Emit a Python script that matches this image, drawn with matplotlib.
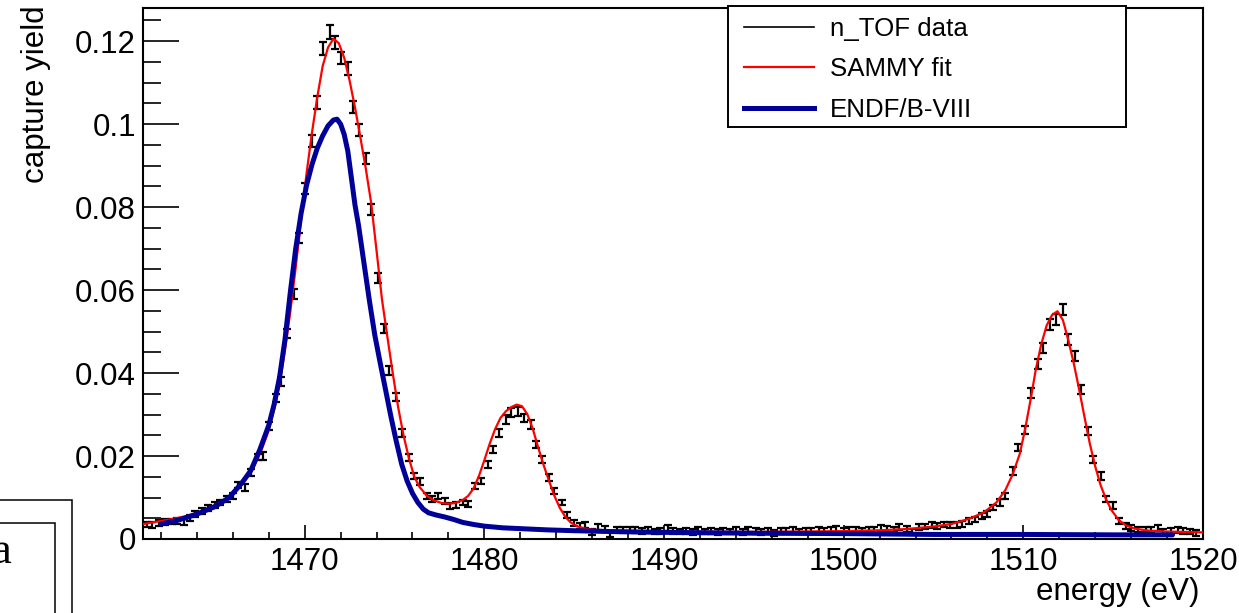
import matplotlib
matplotlib.use("Agg")
import matplotlib.pyplot as plt
from matplotlib.lines import Line2D
from matplotlib.patches import Rectangle
from matplotlib.ticker import MultipleLocator

plt.rcParams['font.family'] = ['Liberation Sans', 'DejaVu Sans']

# n_TOF capture data (energy in eV, yield, error)
energy = [
    1461.2, 1461.5, 1461.9, 1462.2, 1462.6, 1462.9, 1463.3, 1463.6, 1463.9, 1464.3,
    1464.6, 1465.0, 1465.3, 1465.7, 1466.0, 1466.3, 1466.7, 1467.0, 1467.4, 1467.7,
    1468.0, 1468.4, 1468.7, 1469.0, 1469.4, 1469.7, 1470.0, 1470.4, 1470.7, 1471.0,
    1471.4, 1471.7, 1472.0, 1472.4, 1472.7, 1473.0, 1473.4, 1473.7, 1474.1, 1474.4,
    1474.7, 1475.1, 1475.4, 1475.8, 1476.1, 1476.4, 1476.8, 1477.1, 1477.4, 1477.8,
    1478.1, 1478.4, 1478.8, 1479.1, 1479.5, 1479.8, 1480.2, 1480.5, 1480.8, 1481.2,
    1481.5, 1481.9, 1482.2, 1482.6, 1482.9, 1483.2, 1483.6, 1483.9, 1484.3, 1484.6,
    1485.0, 1485.3, 1485.6, 1486.0, 1486.3, 1486.7, 1487.0, 1487.4, 1487.7, 1488.1,
    1488.4, 1488.8, 1489.1, 1489.5, 1489.8, 1490.2, 1490.5, 1490.9, 1491.2, 1491.6,
    1491.9, 1492.3, 1492.6, 1493.0, 1493.3, 1493.7, 1494.0, 1494.4, 1494.7, 1495.1,
    1495.4, 1495.8, 1496.1, 1496.5, 1496.8, 1497.2, 1497.5, 1497.9, 1498.2, 1498.6,
    1498.9, 1499.3, 1499.6, 1500.0, 1500.3, 1500.7, 1501.0, 1501.4, 1501.7, 1502.1,
    1502.4, 1502.8, 1503.1, 1503.5, 1503.8, 1504.2, 1504.5, 1504.9, 1505.2, 1505.6,
    1505.9, 1506.3, 1506.6, 1507.0, 1507.3, 1507.7, 1508.0, 1508.3, 1508.7, 1509.0,
    1509.4, 1509.7, 1510.1, 1510.4, 1510.8, 1511.1, 1511.5, 1511.8, 1512.2, 1512.5,
    1512.9, 1513.2, 1513.6, 1513.9, 1514.3, 1514.6, 1515.0, 1515.3, 1515.7, 1516.0,
    1516.4, 1516.8, 1517.1, 1517.5, 1517.8, 1518.2, 1518.6, 1518.9, 1519.3, 1519.6,
]
yld = [
    0.0035, 0.0033, 0.0039, 0.0041, 0.0042, 0.0044, 0.0041, 0.0050, 0.0060, 0.0068,
    0.0074, 0.0081, 0.0088, 0.0096, 0.0104, 0.0130, 0.0124, 0.0160, 0.0198, 0.0200,
    0.0272, 0.0340, 0.0380, 0.0495, 0.0590, 0.0725, 0.0845, 0.0960, 0.1052, 0.1183,
    0.1222, 0.1197, 0.1160, 0.1134, 0.1041, 0.0986, 0.0918, 0.0795, 0.0630, 0.0507,
    0.0406, 0.0342, 0.0255, 0.0197, 0.0152, 0.0138, 0.0104, 0.0096, 0.0104, 0.0092,
    0.0080, 0.0082, 0.0088, 0.0085, 0.0128, 0.0140, 0.0180, 0.0216, 0.0256, 0.0288,
    0.0304, 0.0308, 0.0292, 0.0276, 0.0228, 0.0192, 0.0148, 0.0116, 0.0088, 0.0057,
    0.0039, 0.0031, 0.0033, 0.0016, 0.0029, 0.0025, 0.0013, 0.0023, 0.0022, 0.0023,
    0.0022, 0.0020, 0.0021, 0.0018, 0.0019, 0.0026, 0.0020, 0.0018, 0.0019, 0.0017,
    0.0021, 0.0018, 0.0019, 0.0016, 0.0020, 0.0018, 0.0021, 0.0017, 0.0022, 0.0020,
    0.0016, 0.0019, 0.0015, 0.0020, 0.0019, 0.0021, 0.0018, 0.0020, 0.0019, 0.0022,
    0.0020, 0.0021, 0.0025, 0.0019, 0.0022, 0.0021, 0.0020, 0.0023, 0.0022, 0.0026,
    0.0024, 0.0023, 0.0029, 0.0025, 0.0016, 0.0029, 0.0030, 0.0034, 0.0032, 0.0035,
    0.0034, 0.0033, 0.0036, 0.0043, 0.0047, 0.0055, 0.0060, 0.0076, 0.0088, 0.0104,
    0.0164, 0.0220, 0.0262, 0.0352, 0.0421, 0.0461, 0.0517, 0.0529, 0.0553, 0.0481,
    0.0441, 0.0361, 0.0260, 0.0192, 0.0152, 0.0096, 0.0080, 0.0043, 0.0031, 0.0027,
    0.0023, 0.0023, 0.0021, 0.0026, 0.0018, 0.0019, 0.0021, 0.0020, 0.0018, 0.0015,
]
yld_err = [
    0.0007, 0.0007, 0.0007, 0.0007, 0.0007, 0.0007, 0.0007, 0.0007, 0.0007, 0.0007,
    0.0007, 0.0007, 0.0007, 0.0007, 0.0007, 0.0008, 0.0008, 0.0008, 0.0008, 0.0009,
    0.0009, 0.0010, 0.0010, 0.0011, 0.0012, 0.0012, 0.0013, 0.0014, 0.0015, 0.0016,
    0.0016, 0.0016, 0.0015, 0.0015, 0.0014, 0.0014, 0.0013, 0.0013, 0.0012, 0.0011,
    0.0011, 0.0010, 0.0009, 0.0009, 0.0008, 0.0008, 0.0008, 0.0008, 0.0008, 0.0008,
    0.0007, 0.0007, 0.0007, 0.0007, 0.0008, 0.0008, 0.0009, 0.0009, 0.0010, 0.0010,
    0.0011, 0.0011, 0.0010, 0.0010, 0.0009, 0.0009, 0.0008, 0.0008, 0.0007, 0.0007,
    0.0007, 0.0007, 0.0007, 0.0007, 0.0007, 0.0007, 0.0007, 0.0007, 0.0007, 0.0007,
    0.0007, 0.0007, 0.0007, 0.0007, 0.0007, 0.0007, 0.0007, 0.0007, 0.0007, 0.0007,
    0.0007, 0.0007, 0.0007, 0.0007, 0.0007, 0.0007, 0.0007, 0.0007, 0.0007, 0.0007,
    0.0007, 0.0007, 0.0007, 0.0007, 0.0007, 0.0007, 0.0007, 0.0007, 0.0007, 0.0007,
    0.0007, 0.0007, 0.0007, 0.0007, 0.0007, 0.0007, 0.0007, 0.0007, 0.0007, 0.0007,
    0.0007, 0.0007, 0.0007, 0.0007, 0.0007, 0.0007, 0.0007, 0.0007, 0.0007, 0.0007,
    0.0007, 0.0007, 0.0007, 0.0007, 0.0007, 0.0007, 0.0007, 0.0007, 0.0008, 0.0008,
    0.0009, 0.0009, 0.0010, 0.0011, 0.0012, 0.0012, 0.0013, 0.0013, 0.0014, 0.0013,
    0.0012, 0.0011, 0.0010, 0.0009, 0.0009, 0.0008, 0.0008, 0.0007, 0.0007, 0.0007,
    0.0007, 0.0007, 0.0007, 0.0007, 0.0007, 0.0007, 0.0007, 0.0007, 0.0007, 0.0007,
]

# SAMMY fit curve
fit_e = [
    1461.0, 1461.8, 1462.6, 1463.4, 1464.2, 1464.8, 1465.4, 1465.9, 1466.4, 1466.8,
    1467.2, 1467.6, 1468.0, 1468.3, 1468.6, 1468.9, 1469.2, 1469.5, 1469.8, 1470.1,
    1470.4, 1470.7, 1471.0, 1471.3, 1471.6, 1471.9, 1472.2, 1472.5, 1472.8, 1473.1,
    1473.4, 1473.7, 1474.0, 1474.3, 1474.6, 1474.9, 1475.2, 1475.5, 1475.8, 1476.1,
    1476.4, 1476.8, 1477.2, 1477.6, 1478.0, 1478.4, 1478.8, 1479.1, 1479.4, 1479.7,
    1480.0, 1480.3, 1480.6, 1480.9, 1481.2, 1481.5, 1481.8, 1482.1, 1482.4, 1482.7,
    1483.0, 1483.3, 1483.6, 1483.9, 1484.2, 1484.5, 1484.8, 1485.2, 1485.7, 1486.5,
    1488.0, 1490.0, 1495.0, 1500.0, 1502.0, 1503.5, 1505.0, 1506.0, 1507.0, 1507.8,
    1508.5, 1509.0, 1509.4, 1509.8, 1510.1, 1510.4, 1510.7, 1511.0, 1511.3, 1511.6,
    1511.9, 1512.2, 1512.5, 1512.8, 1513.1, 1513.4, 1513.7, 1514.0, 1514.3, 1514.6,
    1514.9, 1515.3, 1515.7, 1516.2, 1517.0, 1518.0, 1519.0, 1520.0,
]
fit_y = [
    0.0036, 0.0042, 0.0048, 0.0055, 0.0066, 0.0078, 0.0091, 0.0105, 0.0126, 0.0148,
    0.0176, 0.0215, 0.0262, 0.0312, 0.0372, 0.0455, 0.0548, 0.0655, 0.0770, 0.0880,
    0.0978, 0.1065, 0.1140, 0.1185, 0.1206, 0.1195, 0.1160, 0.1105, 0.1040, 0.0968,
    0.0893, 0.0810, 0.0695, 0.0578, 0.0488, 0.0400, 0.0318, 0.0250, 0.0195, 0.0150,
    0.0125, 0.0104, 0.0093, 0.0087, 0.0085, 0.0087, 0.0094, 0.0104, 0.0122, 0.0152,
    0.0190, 0.0230, 0.0265, 0.0292, 0.0308, 0.0318, 0.0324, 0.0320, 0.0300, 0.0265,
    0.0220, 0.0178, 0.0140, 0.0104, 0.0075, 0.0054, 0.0040, 0.0030, 0.0024, 0.0021,
    0.0019, 0.0018, 0.0017, 0.0019, 0.0021, 0.0024, 0.0030, 0.0036, 0.0049, 0.0064,
    0.0088, 0.0118, 0.0155, 0.0205, 0.0265, 0.0335, 0.0410, 0.0470, 0.0515, 0.0540,
    0.0549, 0.0528, 0.0480, 0.0425, 0.0362, 0.0295, 0.0230, 0.0175, 0.0130, 0.0096,
    0.0070, 0.0046, 0.0033, 0.0025, 0.0020, 0.0018, 0.0017, 0.0016,
]

# ENDF/B-VIII calculated yield
endf_e = [
    1462.0, 1463.0, 1464.0, 1465.0, 1465.8, 1466.5, 1467.0, 1467.5, 1468.0, 1468.3,
    1468.6, 1468.9, 1469.2, 1469.5, 1469.8, 1470.1, 1470.4, 1470.7, 1471.0, 1471.3,
    1471.6, 1471.8, 1472.0, 1472.2, 1472.4, 1472.6, 1472.8, 1473.0, 1473.3, 1473.6,
    1473.9, 1474.2, 1474.5, 1474.8, 1475.1, 1475.4, 1475.7, 1476.0, 1476.3, 1476.6,
    1476.9, 1477.3, 1477.8, 1478.3, 1478.8, 1479.4, 1480.0, 1481.0, 1482.0, 1483.5,
    1485.0, 1487.0, 1490.0, 1495.0, 1500.0, 1505.0, 1510.0, 1515.0, 1518.3,
]
endf_y = [
    0.0036, 0.0046, 0.0060, 0.0078, 0.0100, 0.0135, 0.0165, 0.0215, 0.0274, 0.0325,
    0.0390, 0.0480, 0.0595, 0.0700, 0.0785, 0.0852, 0.0902, 0.0942, 0.0972, 0.0996,
    0.1010, 0.1012, 0.1000, 0.0975, 0.0935, 0.0870, 0.0805, 0.0755, 0.0665, 0.0575,
    0.0492, 0.0425, 0.0360, 0.0295, 0.0235, 0.0180, 0.0140, 0.0110, 0.0088, 0.0072,
    0.0063, 0.0058, 0.0053, 0.0047, 0.0040, 0.0035, 0.0031, 0.0027, 0.0025, 0.0022,
    0.0020, 0.0018, 0.0016, 0.0014, 0.0013, 0.0011, 0.0011, 0.0010, 0.0010,
]

ytick_vals = [0, 0.02, 0.04, 0.06, 0.08, 0.1, 0.12]
ytick_labels = ['0', '0.02', '0.04', '0.06', '0.08', '0.1', '0.12']
xtick_vals = [1470, 1480, 1490, 1500, 1510, 1520]

W, H = 1239, 613
fig = plt.figure(figsize=(W / 100, H / 100), dpi=100)
ax = fig.add_axes([143 / W, 74 / H, 1060 / W, 531 / H])

ax.errorbar(energy, yld, yerr=yld_err, fmt='none', ecolor='black',
            elinewidth=1.6, capsize=3, capthick=1.6, zorder=2)
ax.plot(fit_e, fit_y, color='#ff0000', lw=1.6, zorder=3)
ax.plot(endf_e, endf_y, color='#000099', lw=3.6, zorder=4,
        solid_capstyle='round')

ax.set_xlim(1461, 1520)
ax.set_ylim(0, 0.128)
ax.set_xticks(xtick_vals)
ax.set_yticks(ytick_vals, labels=ytick_labels)
ax.xaxis.set_minor_locator(MultipleLocator(2))
ax.yaxis.set_minor_locator(MultipleLocator(0.005))

ax.tick_params(axis='both', which='both', direction='in', top=False, right=False,
               width=1.2, labelsize=22.5)
ax.tick_params(axis='y', which='major', length=26, pad=5)
ax.tick_params(axis='y', which='minor', length=13)
ax.tick_params(axis='x', which='major', length=10, pad=6)
ax.tick_params(axis='x', which='minor', length=5)
for s in ax.spines.values():
    s.set_linewidth(1.5)

ax.set_xlabel('energy (eV)', fontsize=22.5, loc='right')
ax.xaxis.set_label_coords(1.0 - 3 / 1060, -38 / 531)
ax.set_ylabel('capture yield', fontsize=22.5, loc='top')
ax.yaxis.set_label_coords(-92 / 1060, 1.0 + 3 / 531)

# legend box (ROOT TLegend style)
ax.add_patch(Rectangle((728 / W, 1 - 127 / H), 398 / W, 121 / H,
                       transform=fig.transFigure, facecolor='white',
                       edgecolor='black', lw=1.4, clip_on=False, zorder=10))
handles = [Line2D([], [], color='black', lw=1.2),
           Line2D([], [], color='#ff0000', lw=1.6),
           Line2D([], [], color='#000099', lw=3.6)]
leg = ax.legend(handles, ['n_TOF data', 'SAMMY fit', 'ENDF/B-VIII'],
                loc='upper left', bbox_to_anchor=(744 / W, 1 - 17 / H),
                bbox_transform=fig.transFigure, frameon=False, borderpad=0,
                borderaxespad=0, handlelength=2.7, handletextpad=0.62,
                labelspacing=0.63, fontsize=18.6)
leg.set_zorder(11)

# leftover frame of a neighbouring legend at the lower left edge
fig.add_artist(Rectangle((-0.01, -0.05), 0.01 + 72 / W, 0.05 + 1 - 500 / H,
                         transform=fig.transFigure, fill=False,
                         edgecolor='black', lw=1.1))
fig.add_artist(Rectangle((-0.01, -0.05), 0.01 + 55 / W, 0.05 + 1 - 523 / H,
                         transform=fig.transFigure, fill=False,
                         edgecolor='black', lw=1.1))
fig.text(11 / W, 1 - 563 / H, 'a', fontsize=32, ha='right', va='baseline',
         family=['Liberation Serif', 'DejaVu Serif'])

fig.savefig('out.png', dpi=100)
